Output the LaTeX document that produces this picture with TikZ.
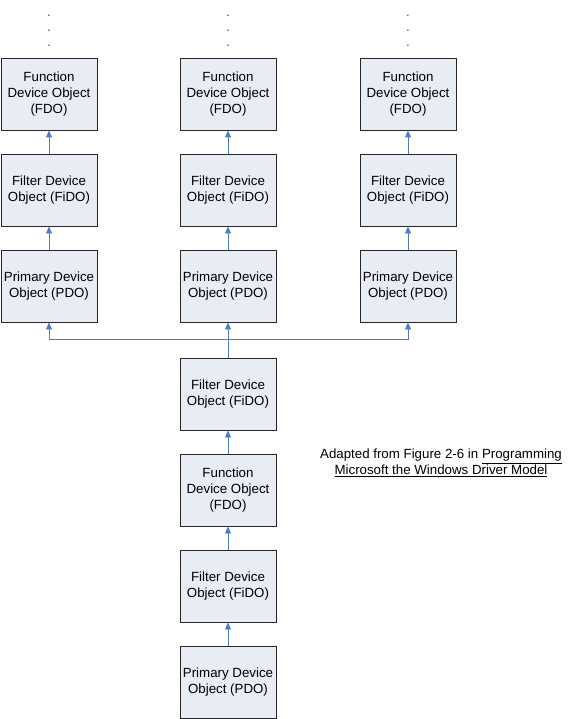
\documentclass[tikz,border=0pt]{standalone}
\usepackage{fontspec}
\setmainfont{Liberation Sans}
\usetikzlibrary{arrows.meta}
\definecolor{boxfill}{HTML}{E8ECF5}
\definecolor{arrblue}{HTML}{4A7EC8}
\begin{document}
\begin{tikzpicture}[x=1pt,y=-1pt,
  devbox/.style={draw=black!85, line width=0.9pt, fill=boxfill, minimum width=96pt, minimum height=72pt,
     align=center, inner sep=0pt, font=\fontsize{13.3}{16}\selectfont},
  arr/.style={draw=arrblue, line width=0.9pt, -{Triangle[width=6pt,length=7pt]}},
  dotmark/.style={anchor=base, inner sep=0pt, font=\fontsize{13.3}{14}\selectfont, text=black!70}]
\useasboundingbox (0,0) rectangle (567,719);
% top columns
\foreach \c/\x in {L/49, C/228, R/408}{
  \node[devbox] (fdo\c) at (\x,94) {Function\\Device Object\\(FDO)};
  \node[devbox] (fido\c) at (\x,190) {Filter Device\\Object (FiDO)};
  \node[devbox] (pdo\c) at (\x,286) {Primary Device\\Object (PDO)};
  \node[dotmark] (da\c) at (\x,17) {.};
  \node[dotmark] (db\c) at (\x,32) {.};
  \node[dotmark] (dc\c) at (\x,47) {.};
  \draw[arr] (fido\c) -- (fdo\c);
  \draw[arr] (pdo\c) -- (fido\c);
}
% lower stack
\node[devbox] (lfido1) at (228,394) {Filter Device\\Object (FiDO)};
\node[devbox] (lfdo) at (228,490) {Function\\Device Object\\(FDO)};
\node[devbox] (lfido2) at (228,586) {Filter Device\\Object (FiDO)};
\node[devbox] (lpdo) at (228,682) {Primary Device\\Object (PDO)};
\draw[arr] (lpdo) -- (lfido2);
\draw[arr] (lfido2) -- (lfdo);
\draw[arr] (lfdo) -- (lfido1);
\draw[arr] (lfido1) -- (pdoC);
\coordinate (busC) at (228,339);
\draw[arr] (busC) -| (pdoL.south);
\draw[arr] (busC) -| (pdoR.south);
% caption
\node[align=center, inner sep=0pt, font=\fontsize{13.3}{16}\selectfont] (cap) at (441,463)
  {Adapted from Figure 2-6 in \underline{Programming}\\\underline{Microsoft the Windows Driver Model}};
\end{tikzpicture}
\end{document}
